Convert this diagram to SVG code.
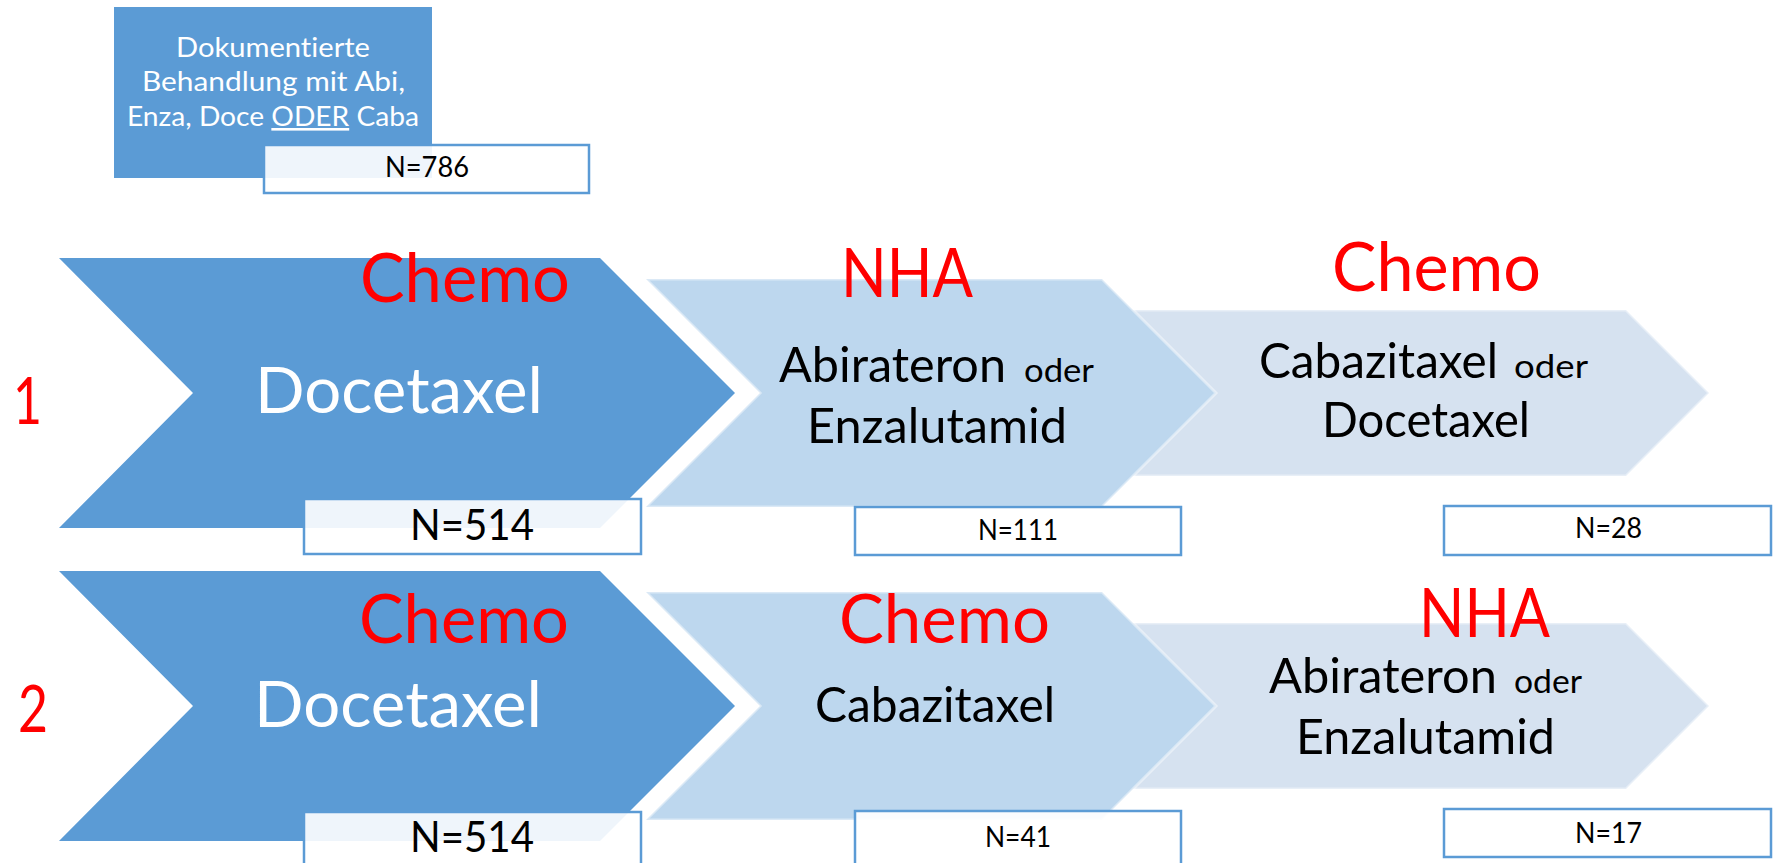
<svg xmlns="http://www.w3.org/2000/svg" width="1775" height="863" viewBox="0 0 1775 863">
<style>
text{font-family:Lato,"Open Sans","Liberation Sans",sans-serif;font-variant-ligatures:none;font-feature-settings:"liga" 0,"clig" 0;}
.c1{fill:#5B9BD5;}
.c2{fill:#BDD7EE;stroke:#FFFFFF;stroke-opacity:0.45;stroke-width:3;}
.c3{fill:#D6E2F0;stroke:#FFFFFF;stroke-opacity:0.45;stroke-width:3;}
.nbox{fill:#FFFFFF;fill-opacity:0.9;stroke:#5B9BD5;stroke-width:2.5;}
.red{fill:#FF0000;font-size:67px;}
.num{fill:#FF0000;font-size:65px;}
.wht{fill:#FFFFFF;font-size:64px;}
.blk{fill:#000000;font-size:49px;}
.sm{fill:#000000;font-size:33px;}
.nbig{fill:#000000;font-size:43px;}
.nsm{fill:#000000;font-size:28px;}
.top{fill:#FFFFFF;font-size:26px;}
</style>
<rect width="1775" height="863" fill="#FFFFFF"/>
<g id="connectors"></g>

<g id="start">
<rect x="114" y="7" width="318" height="171" class="c1"/>
<text class="top" x="176" y="57" textLength="194" lengthAdjust="spacingAndGlyphs">Dokumentierte</text>
<text class="top" x="142" y="91" textLength="263" lengthAdjust="spacingAndGlyphs">Behandlung mit Abi,</text>
<text class="top" x="127" y="126" textLength="292" lengthAdjust="spacingAndGlyphs">Enza, Doce <tspan text-decoration="underline">ODER</tspan> Caba</text>
<rect x="264" y="145" width="325" height="48" class="nbox"/>
<text class="nsm" x="385" y="177" textLength="84" lengthAdjust="spacingAndGlyphs">N=786</text>
</g>

<g id="row1">
<text class="num" x="13" y="424" textLength="29" lengthAdjust="spacingAndGlyphs">1</text>
<g id="r1-step3">
<polygon class="c3" points="1130,310 1626,310 1709,393 1626,476 1130,476 1213,393"/>
<text class="red" x="1332" y="291" textLength="209" lengthAdjust="spacingAndGlyphs">Chemo</text>
<text class="blk" x="1259" y="378" textLength="239" lengthAdjust="spacingAndGlyphs">Cabazitaxel</text>
<text class="sm" x="1514" y="378" textLength="74" lengthAdjust="spacingAndGlyphs">oder</text>
<text class="blk" x="1322" y="437" textLength="208" lengthAdjust="spacingAndGlyphs">Docetaxel</text>
</g>
<g id="r1-step2">
<polygon class="c2" points="646,279 1102,279 1216,393 1102,507 646,507 760,393"/>
<text class="red" x="841" y="297" textLength="132" lengthAdjust="spacingAndGlyphs">NHA</text>
<text class="blk" x="779" y="382" textLength="227" lengthAdjust="spacingAndGlyphs">Abirateron</text>
<text class="sm" x="1024" y="382" textLength="70" lengthAdjust="spacingAndGlyphs">oder</text>
<text class="blk" x="807" y="443" textLength="260" lengthAdjust="spacingAndGlyphs">Enzalutamid</text>
</g>
<g id="r1-step1">
<polygon class="c1" points="59,258 600,258 735,393 600,528 59,528 193,393"/>
<text class="red" x="360" y="302" textLength="210" lengthAdjust="spacingAndGlyphs">Chemo</text>
<text class="wht" x="255" y="413" textLength="288" lengthAdjust="spacingAndGlyphs">Docetaxel</text>
</g>
<g id="r1-n1">
<rect x="304" y="499" width="337" height="55" class="nbox"/>
<text class="nbig" x="410" y="540" textLength="124" lengthAdjust="spacingAndGlyphs">N=514</text>
</g>
<g id="r1-n2">
<rect x="855" y="507" width="326" height="48" class="nbox"/>
<text class="nsm" x="978" y="540" textLength="80" lengthAdjust="spacingAndGlyphs">N=111</text>
</g>
<g id="r1-n3">
<rect x="1444" y="506" width="327" height="49" class="nbox"/>
<text class="nsm" x="1575" y="538" textLength="67" lengthAdjust="spacingAndGlyphs">N=28</text>
</g>
</g>

<g id="row2">
<text class="num" x="18" y="732" textLength="30" lengthAdjust="spacingAndGlyphs">2</text>
<g id="r2-step3">
<polygon class="c3" points="1130,623 1626,623 1709,706 1626,789 1130,789 1213,706"/>
<text class="red" x="1419" y="637" textLength="131" lengthAdjust="spacingAndGlyphs">NHA</text>
<text class="blk" x="1269" y="693" textLength="228" lengthAdjust="spacingAndGlyphs">Abirateron</text>
<text class="sm" x="1514" y="693" textLength="68" lengthAdjust="spacingAndGlyphs">oder</text>
<text class="blk" x="1296" y="754" textLength="259" lengthAdjust="spacingAndGlyphs">Enzalutamid</text>
</g>
<g id="r2-step2">
<polygon class="c2" points="646,592 1102,592 1216,706 1102,820 646,820 760,706"/>
<text class="red" x="839" y="643" textLength="211" lengthAdjust="spacingAndGlyphs">Chemo</text>
<text class="blk" x="815" y="722" textLength="240" lengthAdjust="spacingAndGlyphs">Cabazitaxel</text>
</g>
<g id="r2-step1">
<polygon class="c1" points="59,571 600,571 735,706 600,841 59,841 193,706"/>
<text class="red" x="359" y="643" textLength="210" lengthAdjust="spacingAndGlyphs">Chemo</text>
<text class="wht" x="254" y="727" textLength="288" lengthAdjust="spacingAndGlyphs">Docetaxel</text>
</g>
<g id="r2-n1">
<rect x="304" y="812" width="337" height="60" class="nbox"/>
<text class="nbig" x="410" y="852" textLength="124" lengthAdjust="spacingAndGlyphs">N=514</text>
</g>
<g id="r2-n2">
<rect x="855" y="811" width="326" height="60" class="nbox"/>
<text class="nsm" x="985" y="847" textLength="66" lengthAdjust="spacingAndGlyphs">N=41</text>
</g>
<g id="r2-n3">
<rect x="1444" y="809" width="327" height="48" class="nbox"/>
<text class="nsm" x="1575" y="843" textLength="67" lengthAdjust="spacingAndGlyphs">N=17</text>
</g>
</g>
</svg>
